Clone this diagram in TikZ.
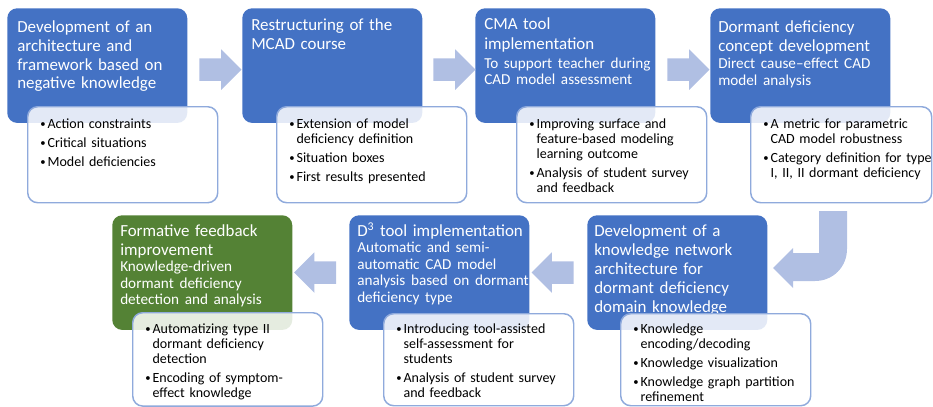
\documentclass[tikz,border=0pt]{standalone}
\usepackage{fontspec}
\setmainfont{Carlito}
\usetikzlibrary{shapes.arrows,calc}
\definecolor{stageblue}{HTML}{4472C4}
\definecolor{stagegreen}{HTML}{548235}
\definecolor{flow}{HTML}{B0BFE3}
\definecolor{rim}{HTML}{8FAADC}
\newcommand{\headfont}{\fontsize{12.7pt}{14.25pt}\selectfont}
\newcommand{\subfont}{\fontsize{11.4pt}{12.4pt}\selectfont}
\newcommand{\itemfont}{\fontsize{10.5pt}{11.25pt}\selectfont}
% one bullet entry, wrapped lines hang under the text
\newcommand{\bitem}[1]{\hangindent=5.5pt\hangafter=1\noindent
  \makebox[5.5pt][l]{\fontsize{8pt}{8pt}\selectfont\raisebox{.6pt}{\textbullet}}#1\par\vspace{3pt}}

\begin{document}
\begin{tikzpicture}[x=0.75pt,y=-0.75pt,
stagebox/.style={fill=stageblue,rounded corners=7.5pt,minimum width=135pt,minimum height=86pt,inner sep=0pt,anchor=north west},
detail/.style={draw=rim,line width=1.1pt,fill=white,fill opacity=.85,rounded corners=7.5pt,minimum width=142.5pt,minimum height=72pt,inner sep=0pt,anchor=north west},
stagetitle/.style={text=white,font=\headfont,text width=132pt,inner sep=0pt,anchor=base west},
bullets/.style={font=\itemfont,text width=136pt,inner sep=0pt,anchor=base west},
flowarrow/.style={single arrow,fill=flow,minimum height=31.5pt,minimum width=30pt,single arrow head extend=6.75pt,inner xsep=0pt,inner ysep=8.25pt}]
  \useasboundingbox (0,0) rectangle (933,407);

  % stages, top row left to right
  \node[stagebox] (s1) at (7,8) {};
  \node[stagebox] (s2) at (242,8) {};
  \node[stagebox] (s3) at (475,8) {};
  \node[stagebox] (s4) at (710,8) {};
  % bottom row runs right to left
  \node[stagebox] (s5) at (587,215) {};
  \node[stagebox] (s6) at (349,215) {};
  \node[stagebox,fill=stagegreen] (s7) at (112,215) {};

  \node[stagetitle] (t1) at ([shift={(10,24)}]s1.north west) {Development of an\\architecture and\\framework based on\\negative knowledge};
  \node[stagetitle] (t2) at ([shift={(9,23)}]s2.north west) {Restructuring of the\\MCAD course};
  \node[stagetitle] (t3) at ([shift={(9,22)}]s3.north west) {CMA tool\\implementation\par
    {\subfont\vspace{2pt}To support teacher during\\CAD model assessment\par}};
  \node[stagetitle] (t4) at ([shift={(8,24)}]s4.north west) {Dormant deficiency\\concept development\par
    {\subfont\vspace{1pt}Direct cause--effect CAD\\model analysis\par}};
  \node[stagetitle] (t5) at ([shift={(7,21)}]s5.north west) {Development of a\\knowledge network\\architecture for\\dormant deficiency\\domain knowledge};
  \node[stagetitle] (t6) at ([shift={(8,21)}]s6.north west) {D\textsuperscript{3} tool implementation\par
    {\subfont Automatic and semi-\\automatic CAD model\\analysis based on dormant\\deficiency type\par}};
  \node[stagetitle] (t7) at ([shift={(8,21)}]s7.north west) {Formative feedback\\improvement\par
    {\subfont Knowledge-driven\\dormant deficiency\\detection and analysis\par}};

  % outcome boxes lie over the stages
  \node[detail] (d1) at (27,106) {};
  \node[detail] (d2) at (276,106) {};
  \node[detail] (d3) at (516,106) {};
  \node[detail,minimum width=135.75pt] (d4) at (750,106) {};
  \node[detail,minimum height=69pt] (d5) at (620,313) {};
  \node[detail,minimum height=69pt] (d6) at (383,313) {};
  \node[detail,minimum height=70pt] (d7) at (132,312) {};

  \node[bullets] (i1) at ([shift={(13,22)}]d1.north west) {\bitem{Action constraints}\bitem{Critical situations}\bitem{Model deficiencies}};
  \node[bullets] (i2) at ([shift={(13,22)}]d2.north west) {\bitem{Extension of model\newline deficiency definition}\bitem{Situation boxes}\bitem{First results presented}};
  \node[bullets] (i3) at ([shift={(13,22)}]d3.north west) {\bitem{Improving surface and\newline feature-based modeling\newline learning outcome}\bitem{Analysis of student survey\newline and feedback}};
  \node[bullets] (i4) at ([shift={(13,22)}]d4.north west) {\bitem{A metric for parametric\newline CAD model robustness}\bitem{Category definition for type\newline I, II, II dormant deficiency}};
  \node[bullets] (i5) at ([shift={(13,20)}]d5.north west) {\bitem{Knowledge\newline encoding/decoding}\bitem{Knowledge visualization}\bitem{Knowledge graph partition\newline refinement}};
  \node[bullets] (i6) at ([shift={(13,20)}]d6.north west) {\bitem{Introducing tool-assisted\newline self-assessment for\newline students}\bitem{Analysis of student survey\newline and feedback}};
  \node[bullets] (i7) at ([shift={(13,21)}]d7.north west) {\bitem{Automatizing type II\newline dormant deficiency\newline detection}\bitem{Encoding of symptom-\newline effect knowledge}};

  % block arrows between the stages
  \node[flowarrow] (a12) at ($(s1.east)!.5!(s2.west)+(0,4)$) {};
  \node[flowarrow] (a23) at ($(s2.east)!.5!(s3.west)+(0,4)$) {};
  \node[flowarrow] (a34) at ($(s3.east)!.5!(s4.west)+(0,4)$) {};
  \node[flowarrow,shape border rotate=180] (a56) at ($(s5.west)!.5!(s6.east)$) {};
  \node[flowarrow,shape border rotate=180] (a67) at ($(s6.west)!.5!(s7.east)$) {};
  % turn from the top row down into the bottom row
  \fill[flow] (819,211) -- (819,253) -- (793,253) -- (793,248) -- (773,268) -- (793,288) -- (793,281) -- (815,281)
    .. controls (833,281) and (847,267) .. (847,249) -- (847,211) -- cycle;
\end{tikzpicture}
\end{document}
